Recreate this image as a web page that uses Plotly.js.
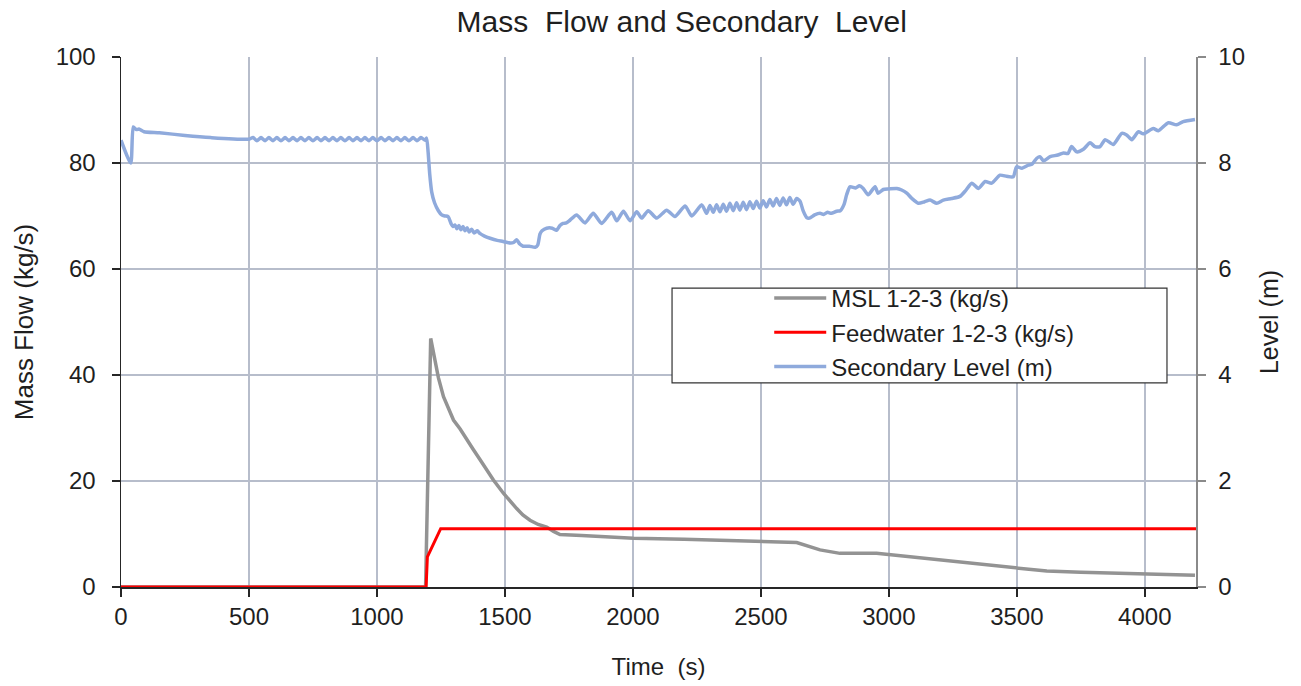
<!DOCTYPE html>
<html>
<head>
<meta charset="utf-8">
<script src="https://cdn.plot.ly/plotly-3.0.1.min.js"></script>
<style>html,body{margin:0;padding:0;background:#fff;}#chart{width:1301px;height:686px;}</style>
</head>
<body>
<div id="chart"></div>
<script>
// ---- Data ----
const mslTime = [0, 1190, 1210, 1225, 1240, 1260, 1280, 1299, 1325, 1351, 1377, 1403, 1430, 1455, 1494, 1520, 1546, 1570, 1598, 1630, 1663, 1690, 1715, 1800, 1900, 2002, 2200, 2400, 2497, 2640, 2731, 2809, 2952, 3100, 3226, 3350, 3486, 3617, 3750, 3877, 4050, 4196];
const mslFlow = [0, 0, 46.9, 43.0, 39.5, 35.9, 33.5, 31.5, 29.8, 27.7, 25.9, 24.0, 22.0, 20.2, 17.7, 16.2, 14.8, 13.6, 12.6, 11.8, 11.3, 10.5, 9.9, 9.7, 9.5, 9.2, 9.0, 8.8, 8.7, 8.4, 7.0, 6.35, 6.35, 5.6, 4.9, 4.2, 3.5, 3.0, 2.8, 2.6, 2.4, 2.2];

const fwTime = [0, 1192, 1197, 1249, 4200];
const fwFlow = [0, 0, 5.7, 11.0, 11.0];

const levelTime = [0, 38, 48, 60, 70, 90, 150, 250, 350, 500,
  516, 531, 547, 563, 578, 594, 609, 625, 641, 656, 672, 688, 703, 719, 734, 750, 766, 781, 797, 813, 828, 844, 859, 875, 891, 906, 922, 938, 953, 969, 984, 1000, 1016, 1031, 1047, 1063, 1078, 1094, 1109, 1125, 1141, 1156, 1172, 1188,
  1194, 1200, 1206, 1214, 1225, 1240, 1253, 1265, 1278, 1290, 1297, 1305, 1312, 1320, 1328, 1336, 1344, 1352, 1360, 1370, 1380, 1392, 1402, 1420, 1442, 1470, 1493, 1520, 1534, 1546, 1558, 1571, 1595, 1618, 1628, 1637, 1645, 1663, 1685, 1702, 1715, 1727, 1740, 1754,
  1780, 1813, 1845, 1878, 1917, 1937, 1963, 1989, 2015, 2034, 2060, 2093, 2132, 2164, 2204, 2230, 2269, 2288,
  2301, 2314, 2327, 2340, 2353, 2366, 2379, 2392, 2405, 2418, 2431, 2444, 2457, 2470, 2483, 2496, 2509, 2522, 2535, 2548, 2561, 2574, 2587, 2600, 2613, 2626, 2640, 2653, 2665, 2679, 2690,
  2710, 2731, 2745, 2760, 2775, 2796, 2810, 2825, 2835, 2848, 2870, 2885, 2900, 2919, 2946, 2958, 2978, 3000, 3031, 3050, 3070, 3090, 3115, 3140, 3161, 3187, 3213, 3245, 3278, 3300, 3324, 3350, 3376, 3402, 3434, 3460, 3486, 3499, 3520, 3545, 3560, 3578, 3590, 3604, 3630, 3660, 3682, 3700, 3714, 3734, 3760, 3786, 3805, 3825, 3845, 3877, 3910, 3929, 3949, 3975, 3994, 4033, 4053, 4092, 4124, 4150, 4196];
const levelM = [8.43, 8.00, 8.68, 8.63, 8.64, 8.59, 8.57, 8.52, 8.48, 8.45,
  8.48, 8.42, 8.48, 8.42, 8.48, 8.42, 8.48, 8.42, 8.48, 8.42, 8.48, 8.42, 8.48, 8.42, 8.48, 8.42, 8.48, 8.42, 8.48, 8.42, 8.48, 8.42, 8.48, 8.42, 8.48, 8.42, 8.48, 8.42, 8.48, 8.42, 8.48, 8.42, 8.48, 8.42, 8.48, 8.42, 8.48, 8.42, 8.48, 8.42, 8.48, 8.42, 8.48, 8.43,
  8.47, 8.20, 7.80, 7.45, 7.25, 7.10, 7.02, 7.00, 6.99, 6.85, 6.80, 6.83, 6.76, 6.82, 6.74, 6.80, 6.72, 6.78, 6.70, 6.75, 6.68, 6.72, 6.67, 6.62, 6.58, 6.54, 6.52, 6.49, 6.50, 6.55, 6.47, 6.43, 6.43, 6.41, 6.45, 6.66, 6.72, 6.77, 6.77, 6.73, 6.82, 6.86, 6.87, 6.92,
  7.02, 6.87, 7.05, 6.86, 7.07, 6.91, 7.09, 6.91, 7.08, 6.96, 7.10, 6.96, 7.11, 6.99, 7.19, 7.00, 7.21, 7.05,
  7.20, 7.07, 7.21, 7.08, 7.22, 7.09, 7.24, 7.10, 7.25, 7.11, 7.26, 7.12, 7.27, 7.14, 7.28, 7.15, 7.29, 7.17, 7.31, 7.19, 7.33, 7.20, 7.34, 7.21, 7.35, 7.22, 7.33, 7.28, 7.10, 6.97, 6.96,
  7.02, 7.05, 7.03, 7.07, 7.05, 7.09, 7.10, 7.22, 7.40, 7.55, 7.53, 7.57, 7.52, 7.40, 7.55, 7.43, 7.50, 7.51, 7.52, 7.49, 7.43, 7.33, 7.24, 7.27, 7.30, 7.24, 7.30, 7.33, 7.37, 7.48, 7.62, 7.52, 7.65, 7.62, 7.77, 7.75, 7.74, 7.93, 7.90, 7.96, 7.98, 8.09, 8.12, 8.04, 8.12, 8.15, 8.19, 8.18, 8.31, 8.21, 8.26, 8.38, 8.31, 8.31, 8.44, 8.35, 8.56, 8.53, 8.44, 8.59, 8.55, 8.65, 8.61, 8.76, 8.72, 8.78, 8.82];

const seriesNames = ['MSL 1-2-3 (kg/s)', 'Feedwater 1-2-3 (kg/s)', 'Secondary Level (m)'];

// ---- Styling ----
const FONT = 'Liberation Sans, Arial, sans-serif';
const GRID = '#b7bdcb';
const TXT = '#1f1f1f';

const traces = [
  {x: mslTime, y: mslFlow, name: seriesNames[0], type: 'scatter', mode: 'lines',
   line: {color: '#939393', width: 3.5}},
  {x: fwTime, y: fwFlow, name: seriesNames[1], type: 'scatter', mode: 'lines',
   line: {color: '#ff0000', width: 3}},
  {x: levelTime, y: levelM, name: seriesNames[2], type: 'scatter', mode: 'lines', yaxis: 'y2',
   line: {color: '#8faadc', width: 3.5, shape: 'spline', smoothing: 0.6}}
];

const layout = {
  width: 1301, height: 686,
  paper_bgcolor: '#ffffff', plot_bgcolor: '#ffffff',
  margin: {l: 121, r: 105, t: 57, b: 99},
  font: {family: FONT, size: 24, color: TXT},
  title: {text: 'Mass  Flow and Secondary  Level', font: {family: FONT, size: 30, color: TXT},
          x: 0.524, xanchor: 'center', y: 0.968, yanchor: 'middle'},
  showlegend: true,
  xaxis: {
    range: [0, 4200], dtick: 500, tick0: 0,
    showgrid: true, gridcolor: GRID, gridwidth: 1.5,
    showline: true, linecolor: '#262626', linewidth: 1.5,
    ticks: 'outside', ticklen: 8, tickcolor: '#262626', tickwidth: 1.5,
    zeroline: false,
    tickfont: {family: FONT, size: 24, color: TXT},
    title: {text: 'Time  (s)', font: {family: FONT, size: 24, color: TXT}, standoff: 29}
  },
  yaxis: {
    range: [0, 100], dtick: 20,
    showgrid: true, gridcolor: GRID, gridwidth: 1.5,
    showline: true, linecolor: '#262626', linewidth: 1.5,
    ticks: 'outside', ticklen: 8, tickcolor: '#262626', tickwidth: 1.5,
    ticklabelstandoff: 11,
    zeroline: false,
    tickfont: {family: FONT, size: 24, color: TXT},
    title: {text: 'Mass Flow (kg/s)', font: {family: FONT, size: 26, color: TXT}, standoff: 14}
  },
  yaxis2: {
    range: [0, 10], dtick: 2, overlaying: 'y', side: 'right',
    showgrid: false, zeroline: false,
    showline: true, linecolor: '#8a8a8a', linewidth: 1.5,
    ticks: 'outside', ticklen: 8, tickcolor: '#8a8a8a', tickwidth: 1.5,
    ticklabelstandoff: 8,
    tickfont: {family: FONT, size: 24, color: TXT},
    title: {text: 'Level (m)', font: {family: FONT, size: 25, color: TXT}, standoff: 16}
  },
  shapes: [{
    type: 'rect', xref: 'paper', yref: 'paper', layer: 'above',
    x0: 0.5126, x1: 0.9730, y0: 0.385, y1: 0.564,
    fillcolor: '#ffffff', line: {color: '#333333', width: 1.2}
  }],
  legend: {
    x: 0.603, xanchor: 'left', y: 0.587, yanchor: 'top',
    bgcolor: 'rgba(0,0,0,0)', borderwidth: 0,
    font: {family: FONT, size: 24, color: TXT},
    itemwidth: 52, tracegroupgap: 0
  }
};

Plotly.newPlot('chart', traces, layout, {displayModeBar: false, staticPlot: true});
</script>
</body>
</html>
